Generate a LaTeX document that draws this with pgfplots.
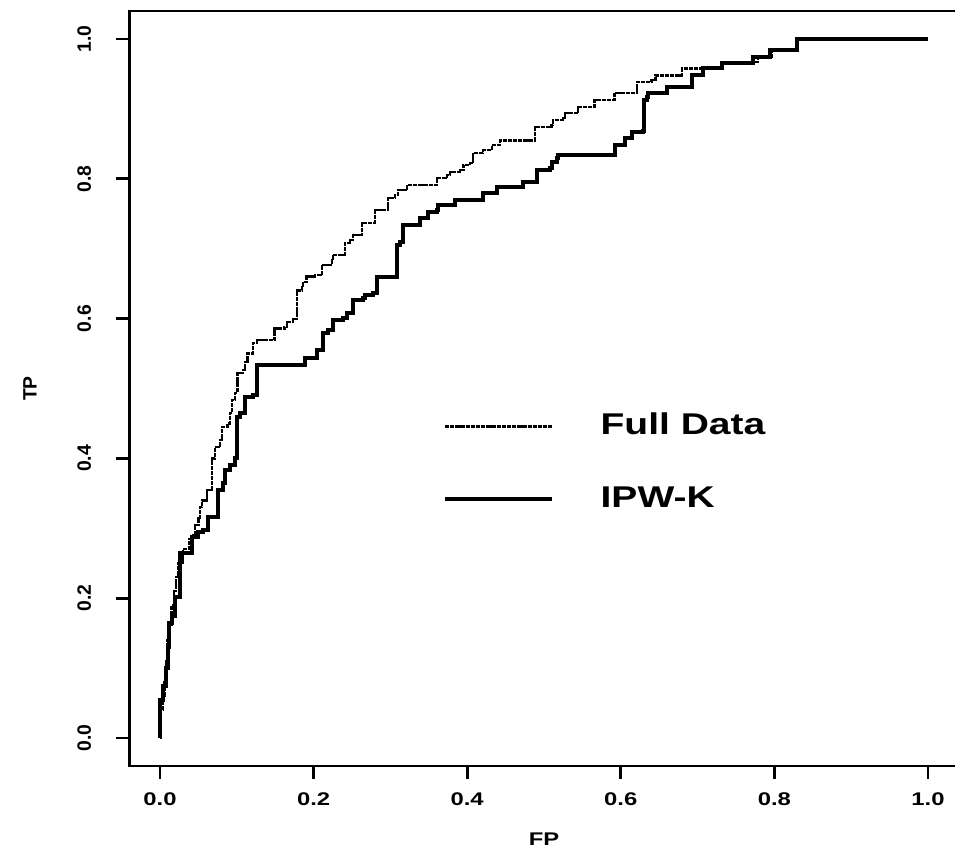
\documentclass[border=0pt]{standalone}
\usepackage{pgfplots}
\pgfplotsset{compat=1.18}
\usepackage{fontspec}
\setmainfont{Liberation Sans}
% horizontally widened face for the horizontal texts
\newfontfamily\widefont{Liberation Sans}[FakeStretch=1.3]

% ROC curves: (FP where the level starts, TP level)
\pgfplotstableread{
fp tp
0.000 0.000
0.001 0.040
0.004 0.060
0.006 0.080
0.008 0.110
0.010 0.140
0.012 0.160
0.015 0.190
0.018 0.210
0.021 0.230
0.024 0.250
0.030 0.270
0.038 0.285
0.043 0.290
0.046 0.305
0.050 0.315
0.052 0.330
0.055 0.340
0.061 0.355
0.068 0.400
0.072 0.416
0.078 0.426
0.081 0.445
0.088 0.450
0.091 0.465
0.094 0.484
0.098 0.494
0.101 0.522
0.108 0.526
0.111 0.538
0.114 0.550
0.121 0.565
0.126 0.569
0.149 0.586
0.162 0.588
0.165 0.595
0.173 0.599
0.178 0.640
0.185 0.645
0.186 0.652
0.191 0.660
0.202 0.662
0.211 0.677
0.224 0.684
0.225 0.691
0.241 0.708
0.247 0.712
0.251 0.720
0.263 0.737
0.280 0.755
0.297 0.773
0.306 0.777
0.310 0.784
0.322 0.791
0.361 0.801
0.374 0.805
0.378 0.810
0.391 0.813
0.395 0.820
0.404 0.823
0.408 0.837
0.421 0.841
0.432 0.848
0.443 0.855
0.488 0.874
0.510 0.877
0.512 0.884
0.525 0.887
0.527 0.894
0.543 0.896
0.544 0.903
0.566 0.913
0.592 0.923
0.621 0.938
0.640 0.941
0.645 0.948
0.680 0.958
0.707 0.960
0.732 0.967
0.779 0.974
0.797 0.984
0.829 1.000
1.000 1.000
}\fulldata

\pgfplotstableread{
fp tp
0.000 0.000
0.000 0.054
0.004 0.075
0.008 0.100
0.010 0.130
0.012 0.165
0.016 0.175
0.019 0.202
0.026 0.265
0.042 0.288
0.050 0.294
0.056 0.298
0.0625 0.316
0.0755 0.355
0.082 0.365
0.085 0.383
0.091 0.391
0.098 0.401
0.100 0.459
0.104 0.465
0.111 0.488
0.121 0.491
0.126 0.534
0.189 0.544
0.204 0.555
0.212 0.579
0.219 0.584
0.225 0.598
0.238 0.601
0.243 0.608
0.251 0.627
0.264 0.629
0.267 0.634
0.277 0.637
0.283 0.660
0.309 0.705
0.3125 0.710
0.316 0.734
0.339 0.744
0.349 0.753
0.361 0.755
0.362 0.763
0.384 0.770
0.421 0.780
0.439 0.788
0.473 0.795
0.491 0.813
0.508 0.815
0.510 0.824
0.517 0.830
0.518 0.834
0.592 0.848
0.605 0.858
0.615 0.867
0.629 0.868
0.630 0.913
0.634 0.917
0.635 0.923
0.660 0.931
0.693 0.948
0.707 0.958
0.732 0.966
0.772 0.974
0.794 0.984
0.829 1.000
1.000 1.000
}\ipwk

\begin{document}
\begin{tikzpicture}
\begin{axis}[
  x=230.4pt, y=209.7pt,
  xmin=-0.04, xmax=1.04, ymin=-0.04, ymax=1.04,
  axis line style={line width=0.8pt},
  xtick={0,0.2,0.4,0.6,0.8,1.0},
  ytick={0,0.2,0.4,0.6,0.8,1.0},
  xticklabels={0.0,0.2,0.4,0.6,0.8,1.0},
  yticklabels={0.0,0.2,0.4,0.6,0.8,1.0},
  tick align=outside,
  xtick pos=bottom, ytick pos=left,
  major tick length=3.9pt,
  tick style={line width=0.8pt, black},
  xticklabel style={font=\widefont\bfseries\fontsize{5.5}{6}\selectfont, anchor=center, yshift=-6pt},
  % rotated frame: +y points left
  yticklabel style={font=\bfseries\fontsize{5.8}{6}\selectfont, rotate=90, anchor=center, yshift=9.6pt},
  every axis x label/.style={at={(axis description cs:0.5,-0.097)}, anchor=center,
    font=\widefont\bfseries\fontsize{5.5}{6}\selectfont},
  every axis y label/.style={at={(axis description cs:-0.1198,0.5)}, anchor=center, rotate=90,
    font=\bfseries\fontsize{5.8}{6}\selectfont},
  xlabel={FP}, ylabel={TP},
  legend style={draw=none, fill=none, at={(axis cs:0.3685,0.394)}, anchor=west,
    inner sep=0pt, outer sep=0pt, row sep=14pt, column sep=14.1pt,
    nodes={inner sep=0pt, font=\widefont\bfseries\fontsize{9}{10}\selectfont}},
  legend cell align=left,
  legend image code/.code={\draw[#1] (0pt,0pt) -- (32pt,0pt);},
]
\addplot[const plot, black, line width=0.7pt, dash pattern=on 1.3pt off 0.25pt] table[x=fp, y=tp] {\fulldata};
\addlegendentry{Full Data}
\addplot[const plot, black, line width=1.2pt] table[x=fp, y=tp] {\ipwk};
\addlegendentry{IPW-K}
\coordinate (bbsw) at (axis cs:-0.2083,-0.1645);
\coordinate (bbne) at (axis cs:1.0352,1.0558);
\end{axis}
\pgfresetboundingbox
\useasboundingbox (bbsw) rectangle (bbne);
\end{tikzpicture}
\end{document}
